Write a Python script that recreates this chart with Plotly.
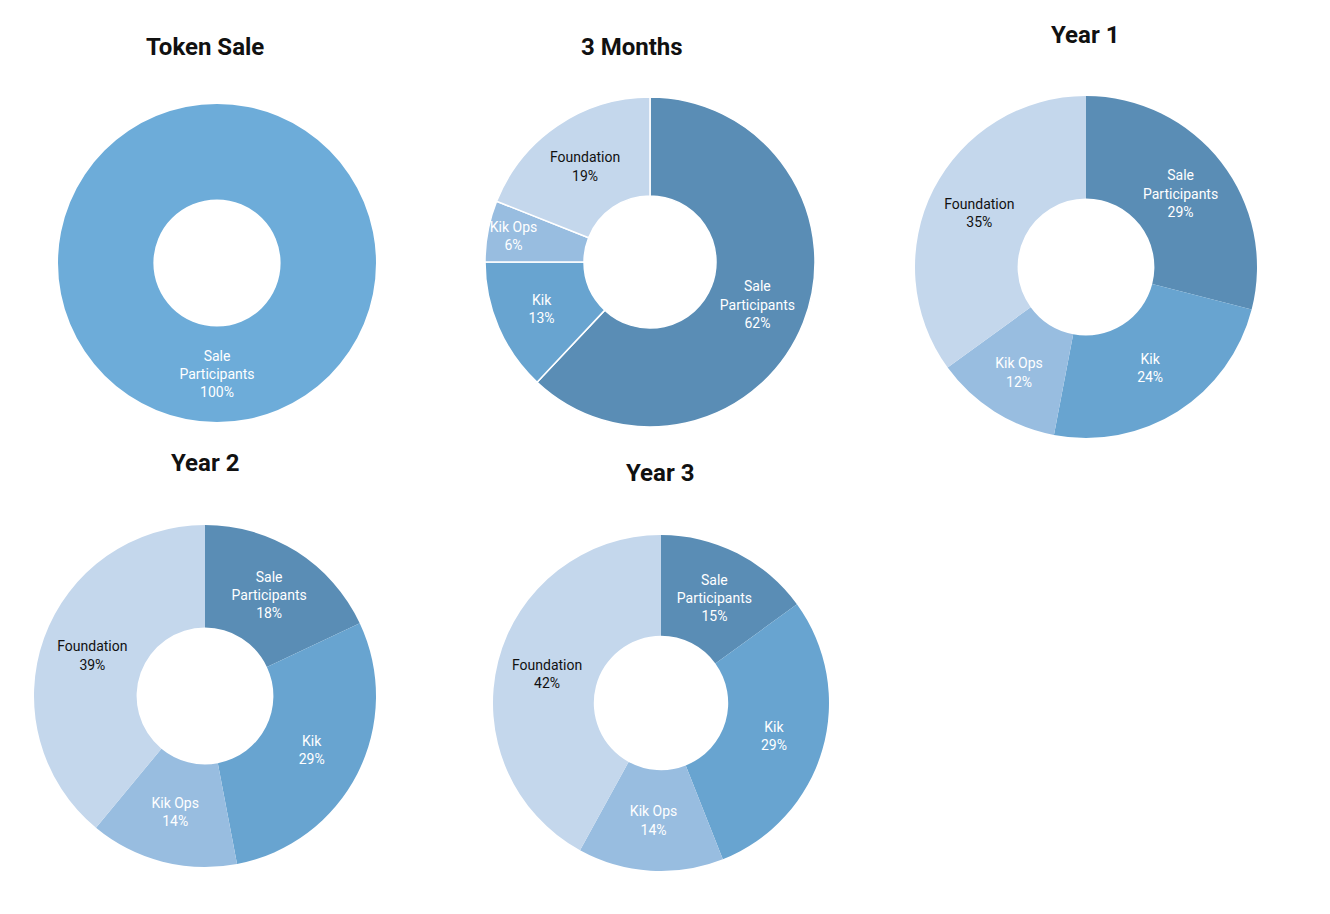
import plotly.graph_objects as go

W, H = 1330, 914

titles = ["Token Sale", "3 Months", "Year 1", "Year 2", "Year 3"]
labels = ["Sale Participants", "Kik", "Kik Ops", "Foundation"]
display_labels = ["Sale<br>Participants", "Kik", "Kik Ops", "Foundation"]
token_sale = [100, 0, 0, 0]
months_3 = [62, 13, 6, 19]
year_1 = [29, 24, 12, 35]
year_2 = [18, 29, 14, 39]
year_3 = [15, 29, 14, 42]
series = [token_sale, months_3, year_1, year_2, year_3]

colors = ["#5a8db5", "#68a4d0", "#98bde0", "#c4d7ec"]
token_color = "#6dacd9"
text_colors = ["white", "white", "white", "#111111"]

OFF = 8  # page body margin
# pixel boxes (left, top, size) for each donut and title positions
boxes = [(58, 104, 318), (485, 97, 330), (915, 96, 342), (34, 525, 342), (493, 535, 336)]
title_pos = [(205, 47), (632, 47), (1085, 35), (205, 463), (660, 473)]
line_widths = [0, 1.5, 0, 0, 0]

fig = go.Figure()
for i, vals in enumerate(series):
    l, t, s = boxes[i]
    l -= OFF
    t -= OFF
    labs = [lb for lb, v in zip(labels, vals) if v > 0]
    dl = [d for d, v in zip(display_labels, vals) if v > 0]
    vv = [v for v in vals if v > 0]
    if i == 0:
        cols = [token_color]
        tcols = ["white"]
    else:
        cols = [c for c, v in zip(colors, vals) if v > 0]
        tcols = [c for c, v in zip(text_colors, vals) if v > 0]
    fig.add_trace(go.Pie(
        labels=labs, values=vv, customdata=dl,
        hole=0.4, sort=False, direction="clockwise", rotation=0,
        marker=dict(colors=cols, line=dict(color="white", width=line_widths[i])),
        texttemplate="%{customdata}<br>%{value}%",
        textposition="inside", insidetextorientation="horizontal",
        textfont=dict(family="Roboto", size=14, color=tcols),
        domain=dict(x=[l / W, (l + s) / W], y=[1 - (t + s) / H, 1 - t / H]),
        showlegend=False, hoverinfo="label+percent",
    ))
    tx, ty = title_pos[i]
    fig.add_annotation(text="<b>%s</b>" % titles[i], x=(tx - OFF) / W, y=1 - (ty - OFF) / H,
                       xref="paper", yref="paper", showarrow=False,
                       xanchor="center", yanchor="middle",
                       font=dict(family="Roboto", size=24, color="#111111"))

fig.update_layout(width=W, height=H, margin=dict(l=0, r=0, t=0, b=0),
                  paper_bgcolor="white", plot_bgcolor="white",
                  uniformtext=dict(minsize=14, mode="show"))
fig.write_html("out.html")
